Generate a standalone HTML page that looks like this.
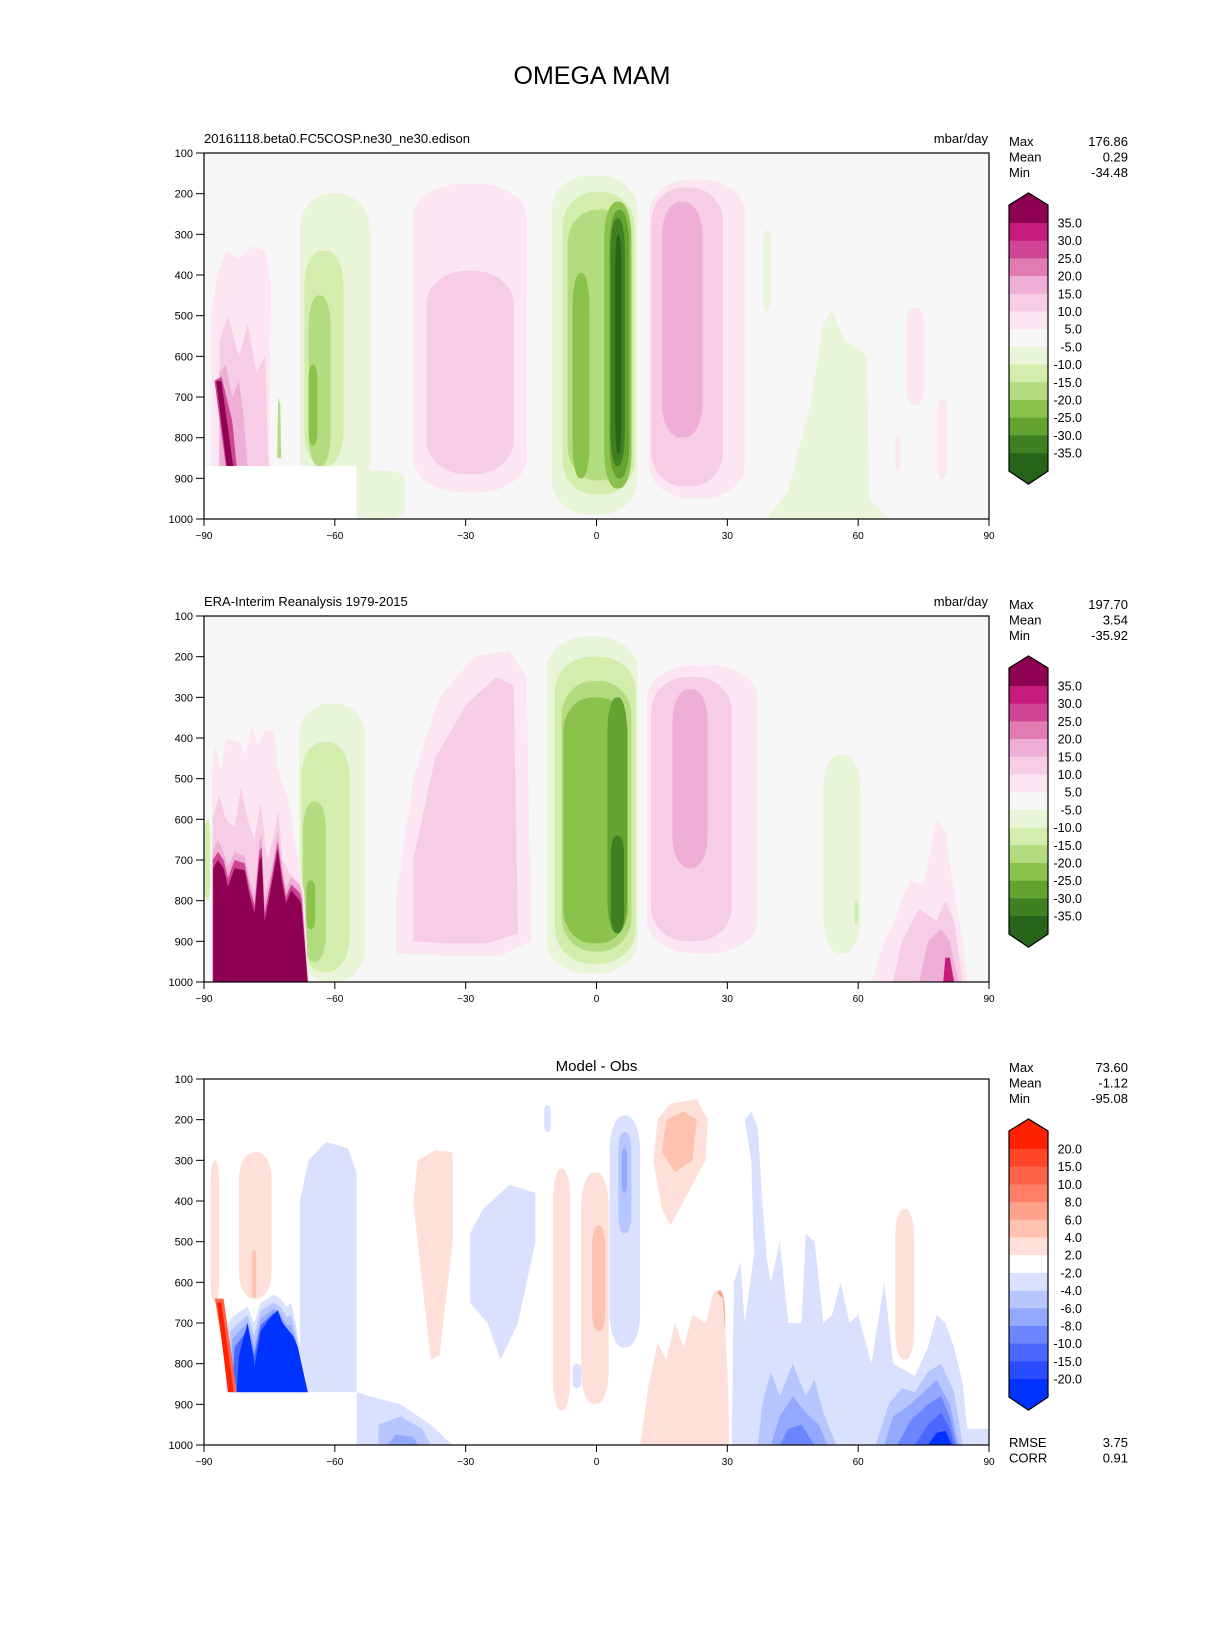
<!DOCTYPE html>
<html><head><meta charset="utf-8"><style>
html,body{margin:0;padding:0;background:#fff;}
svg{display:block;font-family:"Liberation Sans","DejaVu Sans",sans-serif;}
</style></head><body>
<svg id="fig" width="1212" height="1628" viewBox="0 0 1212 1628" xmlns="http://www.w3.org/2000/svg">
<rect width="1212" height="1628" fill="#fff"/>
<text x="592" y="84" font-size="25" text-anchor="middle" fill="#000">OMEGA MAM</text>
</svg>
<script>
const latTicks=[-90,-60,-30,0,30,60,90];
const pTicks=[100,200,300,400,500,600,700,800,900,1000];
const colors1=['#8e0152','#c51b7d','#d04494','#e07cb2','#eeaed6','#f7cce5','#fbe6f1','#f7f7f7','#e9f5d8','#d3edad','#b2dc7f','#8bc24c','#64a331','#3e8022','#276419'];
const levels1=['35.0','30.0','25.0','20.0','15.0','10.0','5.0','-5.0','-10.0','-15.0','-20.0','-25.0','-30.0','-35.0'];
const colors3=['#ff2200','#ff4628','#ff6448','#ff8066','#ffa28c','#ffc1b0','#ffe0d8','#ffffff','#d9e1ff','#b8c6ff','#93a8ff','#6b86ff','#4a68ff','#2a4cff','#0033ff'];
const levels3=['20.0','15.0','10.0','8.0','6.0','4.0','2.0','-2.0','-4.0','-6.0','-8.0','-10.0','-15.0','-20.0'];
const stats1=['176.86','0.29','-34.48'];
const stats2=['197.70','3.54','-35.92'];
const stats3=['73.60','-1.12','-95.08'];
const errStats=['3.75','0.91'];
// blobs: [colorIndex, lat0, lat1, pTop, pBottom]
const blobs1=[
[8,-68,-52,200,1000],[8,-56,-44,880,1000],[9,-67,-58,340,870],[10,-66,-61,450,870],[11,-66,-64,620,820],
[6,-42,-16,175,935],[5,-39,-19,390,890],
[8,-10.3,9.4,155,990],[9,-7.8,8.7,196,940],[10,-6.6,8,240,905],[11,-5.5,-1.6,395,900],[11,1.8,8,220,925],[12,3,7.5,240,900],[13,3.2,6.5,260,870],[14,4.3,5.7,300,840],
[6,12,34,165,950],[5,12.6,29,185,920],[4,15,24.3,220,800],
[8,38.2,39.9,290,490],[6,71,75.2,480,720],[6,78,80.4,705,900],[6,68.5,69.7,796,880]];
const polys1=[
[8,[[39,1000],[44,930],[49,720],[52,520],[54,490],[57,560],[60,580],[62,600],[62.5,950],[67,1000]]],
[6,[[-88.3,870],[-88.3,500],[-87,400],[-85,340],[-82,360],[-79,330],[-76,340],[-74.7,420],[-75,870]]],
[5,[[-86.4,870],[-86.4,560],[-84.5,500],[-82,600],[-80,520],[-78,640],[-76,600],[-75.2,870]]],
[4,[[-86.5,870],[-86.5,640],[-85,620],[-83.5,700],[-82,660],[-81,740],[-80,870]]],
[2,[[-87.6,660],[-86,650],[-83.5,760],[-82.5,870],[-85,870]]],
[0,[[-87.2,660],[-86,662],[-83.3,870],[-84.8,870]]],
[10,[[-73.2,850],[-73,700],[-72.5,720],[-72.3,850]]],
[7,[[-90,870],[-55,870],[-55,1000],[-90,1000]]]];
const blobs2=[
[8,-68.2,-53,315,1000],[9,-67.7,-56.6,410,975],[10,-67.3,-62,556,950],[11,-66.5,-64.5,750,870],
[8,-11.5,9.5,150,980],[9,-9.5,9,200,955],[10,-8,8,260,925],[11,-7.6,7.2,300,905],[12,2.5,7,300,880],[13,3.3,6.3,640,880],
[6,11.5,37,220,930],[5,12.5,31,250,900],[4,17.4,25.5,280,720],
[8,52,60.5,440,930],[9,59.2,60,800,860],[9,-89.8,-88.6,600,800]];
const polys2=[
[6,[[-46,930],[-46,800],[-42,500],[-36,300],[-28,200],[-20,185],[-16,250],[-15,900],[-22,935],[-35,935]]],
[5,[[-42,900],[-42,700],[-37,450],[-30,320],[-23,250],[-19,270],[-18,880],[-25,905],[-35,905]]],
[6,[[-88.2,1000],[-88.2,500],[-87.5,420],[-86,480],[-85,400],[-82,410],[-80.5,440],[-79,370],[-77.5,420],[-76,380],[-74,380],[-73,480],[-70.5,560],[-68.5,700],[-67,780],[-66,1000]]],
[5,[[-88,1000],[-88,600],[-86.5,540],[-85,600],[-83,620],[-81.5,520],[-80,600],[-78.5,650],[-77,560],[-75.5,700],[-74,640],[-73,580],[-72,700],[-70,740],[-68,780],[-66.2,1000]]],
[4,[[-88,1000],[-88,680],[-86.8,650],[-85.5,680],[-84.5,720],[-83,680],[-80.7,690],[-79.5,750],[-78.4,790],[-77.3,650],[-76.8,640],[-76.1,800],[-74.5,720],[-73.1,630],[-72,720],[-71.2,770],[-70,740],[-68.1,760],[-67.5,780],[-66.2,1000]]],
[2,[[-88,1000],[-88,700],[-86.8,680],[-85.5,700],[-84.5,745],[-83,700],[-80.7,708],[-79.5,772],[-78.4,812],[-77.3,678],[-76.8,668],[-76.1,830],[-74.5,742],[-73.1,655],[-72,742],[-71.2,790],[-70,760],[-68.1,780],[-67.6,795],[-66.2,1000]]],
[0,[[-87.9,1000],[-87.9,720],[-86.8,700],[-85.5,720],[-84.5,766],[-83,720],[-80.7,725],[-79.5,790],[-78.4,830],[-77.3,700],[-76.8,690],[-76.1,852],[-74.5,760],[-73.1,675],[-72,760],[-71.2,806],[-70,775],[-68.1,798],[-67.7,810],[-66.2,1000]]],
[6,[[63,1000],[66,900],[68,860],[70,800],[72,750],[75,760],[78,600],[80,630],[82,780],[84,900],[85,1000]]],
[5,[[68,1000],[70,900],[74,820],[78,850],[80,800],[82,850],[84,1000]]],
[4,[[74,1000],[76,900],[79,870],[81,900],[83,1000]]],
[1,[[79.5,1000],[80,940],[81,940],[82,1000]]]];
const blobs3=[
[6,-82,-74.5,280,640],[5,-79,-78,520,640],[6,-88.5,-86.5,300,650],
[6,-10,-6,320,915],[6,-3.5,2.8,330,900],[5,-1,2,460,720],
[8,3,10,190,760],[9,5,8,230,480],[10,5.8,7,270,380],
[8,-12,-10.5,165,230],[8,-5.5,-3.5,800,860],
[6,68.5,72.8,420,790],[6,78,80,800,880],[4,27,29.5,620,1000],[3,27.8,28.8,700,1000],[8,-66.5,-65.5,500,800],[9,-66.3,-65.7,520,760]];
const polys3=[
[8,[[-68,870],[-68,400],[-66,300],[-62,255],[-57,270],[-55,330],[-55,870]]],
[8,[[-55,870],[-55,1000],[-33,1000],[-38,950],[-45,900],[-52,880]]],
[9,[[-50,1000],[-50,950],[-45,930],[-40,960],[-38,1000]]],
[10,[[-48,1000],[-46,975],[-42,980],[-41,1000]]],
[8,[[-29,650],[-29,480],[-26,420],[-20,360],[-14,380],[-14,500],[-18,700],[-22,790],[-25,700]]],
[6,[[-42,400],[-41,300],[-37,275],[-33,280],[-33,500],[-36,780],[-38,790],[-40,600]]],
[6,[[13,300],[14,200],[17,160],[23,150],[25.5,200],[25,300],[20,400],[17,460],[15,420]]],
[5,[[15,280],[16,200],[20,180],[23,200],[22,300],[18,330]]],
[6,[[10,1000],[12,850],[14,750],[16,790],[18,700],[20,760],[22,680],[25,700],[27,620],[29,640],[30,800],[30.5,1000]]],
[8,[[31,1000],[31.5,600],[33,550],[34,700],[36,540],[38,480],[40,600],[42,500],[44,700],[47,700],[48,480],[50,500],[52,700],[54,680],[56,600],[58,700],[60,680],[63,800],[66,600],[68,800],[73,830],[76,760],[78,680],[80,700],[82,760],[84,850],[85,960],[90,960],[90,1000]]],
[8,[[34,200],[35.5,180],[37,220],[38,400],[39.5,600],[37,620],[36,500],[35.5,300]]],
[9,[[37,1000],[38,900],[40,820],[42,880],[45,800],[48,880],[50,840],[52,920],[55,1000]]],
[9,[[64,1000],[67,900],[70,860],[73,870],[76,820],[79,800],[82,870],[84,1000]]],
[10,[[40,1000],[42,930],[45,880],[48,920],[51,950],[53,1000]]],
[10,[[66,1000],[68,930],[72,900],[75,870],[78,840],[81,900],[83,1000]]],
[11,[[42,1000],[44,960],[47,950],[50,1000]]],
[11,[[69,1000],[72,940],[76,900],[79,880],[81,930],[82.5,1000]]],
[12,[[73,1000],[76,950],[79,920],[81,960],[82,1000]]],
[14,[[76,1000],[78,970],[80,965],[81.5,1000]]],
[8,[[-85,870],[-84.5,700],[-83,680],[-80,660],[-78.5,700],[-77,650],[-74,630],[-72.5,640],[-71,660],[-70,650],[-69,700],[-68,760],[-67,830],[-66,870]]],
[9,[[-84.5,870],[-84,720],[-82,700],[-80,680],[-78.5,730],[-77,670],[-74,650],[-72.5,660],[-71,685],[-70,680],[-69,720],[-68,780],[-66.5,870]]],
[10,[[-84,870],[-83.5,740],[-81.5,715],[-80,700],[-78.5,760],[-77,690],[-74,665],[-72.5,680],[-71,705],[-70,705],[-69,740],[-68,790],[-66.3,870]]],
[12,[[-83.5,870],[-83,760],[-81,730],[-80,715],[-78.5,780],[-77,705],[-74,675],[-72.5,690],[-71,715],[-69.5,730],[-68.7,760],[-66.2,870]]],
[14,[[-82.5,870],[-82,780],[-80,700],[-79,760],[-78.4,805],[-77,720],[-75,690],[-73.1,668],[-72,700],[-70.5,720],[-69.2,740],[-68.5,760],[-66.2,870]]],
[2,[[-87.5,640],[-85.5,640],[-82.5,870],[-84,870]]],
[0,[[-87,650],[-86,650],[-83.2,870],[-84.5,870]]]];

const NS='http://www.w3.org/2000/svg';
const svg=document.getElementById('fig');
const L=204,W=785,H=366;
function mk(tag,attrs,parent){const e=document.createElementNS(NS,tag);for(const k in attrs)e.setAttribute(k,attrs[k]);(parent||svg).appendChild(e);return e;}
function txt(s,x,y,size,anchor,parent){const t=mk('text',{x:x,y:y,'font-size':size,'text-anchor':anchor||'start',fill:'#000'},parent);t.textContent=s;return t;}

function panel(idx,T,colors,bg,blobs,polys,levels,stats,leftTitle,centerTitle){
  const X=lat=>L+(lat+90)/180*W;
  const Y=p=>T+(p-100)/900*H;
  const g=mk('g',{});
  
  
  const cp=mk('clipPath',{id:'clip'+idx},g);
  mk('rect',{x:L,y:T,width:W,height:H},cp);
  const plot=mk('g',{'clip-path':'url(#clip'+idx+')'},g);
  
  
  const b=mk('rect',{x:L,y:T,width:W,height:H,fill:bg},plot);
  
  
  blobs.forEach(d=>{
    const x0=X(d[1]),x1=X(d[2]),y0=Y(d[3]),y1=Y(d[4]);
    const w=x1-x0,h=y1-y0;
    const r=mk('rect',{x:x0,y:y0,width:w,height:h,rx:w*0.45,ry:Math.min(h*0.18,34),fill:colors[d[0]]},plot);
    
    
  });
  polys.forEach(d=>{
    const pts=d[1].map(q=>X(q[0]).toFixed(1)+','+Y(q[1]).toFixed(1)).join(' ');
    const pg=mk('polygon',{points:pts,fill:d[0]===7&&idx===1?'#ffffff':colors[d[0]],'stroke-linejoin':'round'},plot);
    
    
  });
  const fr=mk('rect',{x:L,y:T,width:W,height:H,fill:'none',stroke:'#000','stroke-width':1.2},g);
  
  
  pTicks.forEach(p=>{
    const y=Y(p);
    mk('line',{x1:L-8,x2:L,y1:y,y2:y,stroke:'#000','stroke-width':1},g);
    const t=txt(String(p),L-11,y+4,11,'end',g);
    
    
  });
  latTicks.forEach(l=>{
    const x=X(l);
    mk('line',{x1:x,x2:x,y1:T+H,y2:T+H+7,stroke:'#000','stroke-width':1},g);
    const t=txt(String(l).replace('-','\u2212'),x,T+H+20,10,'middle',g);
    
    
  });
  if(leftTitle){const t=txt(leftTitle,L,T-10,13,'start',g);
    const u=txt('mbar/day',L+W-1,T-10,13,'end',g);}
  if(centerTitle){const t=txt(centerTitle,L+W/2,T-8,15,'middle',g);}
  const sn=['Max','Mean','Min'];
  sn.forEach((n,i)=>{
    const a=txt(n,1009,T-7+i*15.5,13,'start',g);
    
    
    const v=txt(stats[i],1128,T-7+i*15.5,13,'end',g);
    
    
  });
  const cb=mk('g',{},g);
  
  
  const cx0=1009,cx1=1048,tip=T+40,sh=T+52,b0=T+70,step=17.7;
  const nb=levels.length;
  const bEnd=b0+(nb-1)*step, sh2=bEnd+18, tip2=sh2+13;
  mk('polygon',{points:`${cx0},${sh} ${(cx0+cx1)/2},${tip} ${cx1},${sh} ${cx1},${b0} ${cx0},${b0}`,fill:colors[0]},cb);
  for(let k=0;k<nb-1;k++){
    const r=mk('rect',{x:cx0,y:b0+k*step,width:cx1-cx0,height:step+0.5,fill:colors[k+1]},cb);
    
    
  }
  mk('polygon',{points:`${cx0},${bEnd} ${cx1},${bEnd} ${cx1},${sh2} ${(cx0+cx1)/2},${tip2} ${cx0},${sh2}`,fill:colors[colors.length-1]},cb);
  mk('polygon',{points:`${cx0},${sh} ${(cx0+cx1)/2},${tip} ${cx1},${sh} ${cx1},${sh2} ${(cx0+cx1)/2},${tip2} ${cx0},${sh2}`,fill:'none',stroke:'#000','stroke-width':1.2},cb);
  levels.forEach((s,k)=>{
    const t=txt(s,1082,b0+k*step+4.5,12.5,'end',cb);
    
    
  });
}
panel(1,153,colors1,'#f7f7f7',blobs1,polys1,levels1,stats1,'20161118.beta0.FC5COSP.ne30_ne30.edison',null);
panel(2,616,colors1,'#f7f7f7',blobs2,polys2,levels1,stats2,'ERA-Interim Reanalysis 1979-2015',null);
panel(3,1079,colors3,'#ffffff',blobs3,polys3,levels3,stats3,null,'Model - Obs');
['RMSE','CORR'].forEach((n,i)=>{
  const a=txt(n,1009,1447+i*15.5,13,'start');
  
  
  const v=txt(errStats[i],1128,1447+i*15.5,13,'end');
  
  
});
</script>
</body></html>
